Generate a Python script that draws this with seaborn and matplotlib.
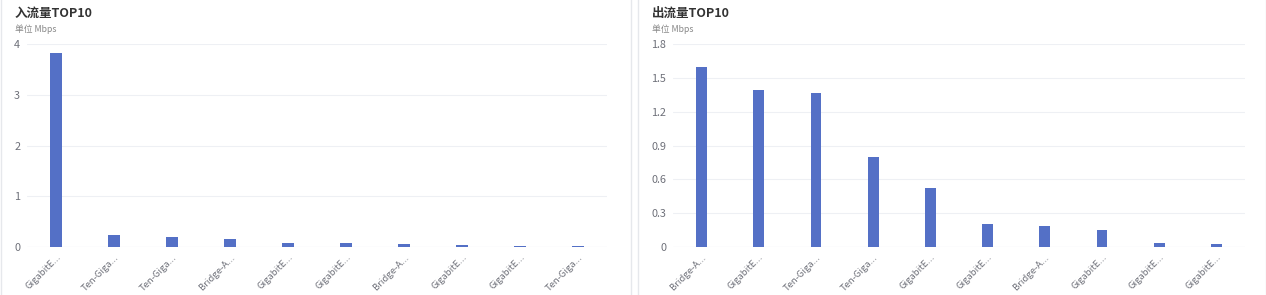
import matplotlib
matplotlib.use("Agg")
import matplotlib.pyplot as plt
import seaborn as sns
import pandas as pd
from matplotlib.patches import Rectangle

sns.set_theme(style="white")
plt.rcParams['font.family'] = ['Noto Sans CJK SC', 'DejaVu Sans']

in_labels = ["GigabitE...", "Ten-Giga...", "Ten-Giga...", "Bridge-A...", "GigabitE...",
             "GigabitE...", "Bridge-A...", "GigabitE...", "GigabitE...", "Ten-Giga..."]
in_values = [3.82, 0.23, 0.20, 0.15, 0.087, 0.073, 0.06, 0.045, 0.015, 0.012]
in_ticks = [0, 1, 2, 3, 4]
in_tick_labels = ["0", "1", "2", "3", "4"]

out_labels = ["Bridge-A...", "GigabitE...", "Ten-Giga...", "Ten-Giga...", "GigabitE...",
              "GigabitE...", "Bridge-A...", "GigabitE...", "GigabitE...", "GigabitE..."]
out_values = [1.60, 1.39, 1.365, 0.80, 0.52, 0.205, 0.185, 0.15, 0.035, 0.027]
out_ticks = [0, 0.3, 0.6, 0.9, 1.2, 1.5, 1.8]
out_tick_labels = ["0", "0.3", "0.6", "0.9", "1.2", "1.5", "1.8"]

BAR = "#5470c6"
GRID = "#eef0f4"
TXT = "#6e7079"

W, H = 1266, 295
fig = plt.figure(figsize=(W / 100, H / 100), dpi=100)
fig.patch.set_facecolor("white")

# panel borders
for x0, x1 in [(1, 631), (638, 1266)]:
    fig.patches.append(Rectangle((x0 / W, -0.01), (x1 - x0) / W, 1.02,
                                 transform=fig.transFigure, fill=False,
                                 edgecolor="#e6e8ec", linewidth=1.0))


def panel(left_px, right_px, labels, values, ticks, tick_labels, title, title_x):
    ax = fig.add_axes([left_px / W, (H - 247) / H, (right_px - left_px) / W, 203 / H])
    df = pd.DataFrame({"cat": [f"{i}" for i in range(len(labels))], "val": values})
    sns.barplot(data=df, x="cat", y="val", ax=ax, color=BAR, width=0.19,
                saturation=1, edgecolor=BAR, linewidth=0)
    ax.set_ylim(ticks[0], ticks[-1])
    ax.set_xlim(-0.5, len(labels) - 0.5)
    ax.set_yticks(ticks)
    ax.set_yticklabels(tick_labels, color=TXT, fontsize=7.8)
    ax.set_xticks(range(len(labels)))
    ax.set_xticklabels(labels, rotation=45, ha="right", rotation_mode="anchor",
                       color=TXT, fontsize=6.8)
    ax.tick_params(axis="both", length=0, pad=5)
    ax.tick_params(axis="x", pad=4)
    ax.set_xlabel("")
    ax.set_ylabel("")
    for s in ax.spines.values():
        s.set_visible(False)
    ax.grid(axis="y", color=GRID, linewidth=0.8)
    ax.set_axisbelow(True)
    ax.axhline(0, color="#e0e6f1", linewidth=0.8, zorder=0.5)
    fig.text(title_x / W, 1 - 13 / H, title, fontsize=9, fontweight="bold",
             color="#333333", va="center", ha="left")
    fig.text(title_x / W, 1 - 29 / H, "单位 Mbps", fontsize=6.3, color="#888888",
             va="center", ha="left")
    return ax


panel(27, 607, in_labels, in_values, in_ticks, in_tick_labels, "入流量TOP10", 15)
panel(673, 1245, out_labels, out_values, out_ticks, out_tick_labels, "出流量TOP10", 652)

fig.savefig("out.png", dpi=100, facecolor="white")
